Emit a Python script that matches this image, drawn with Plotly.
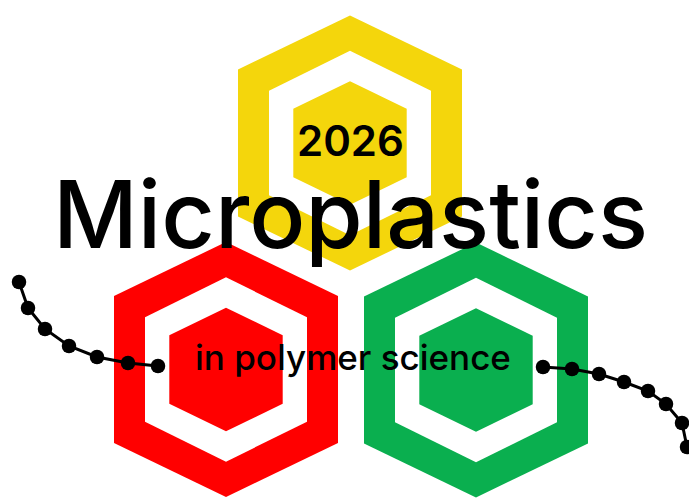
import plotly.graph_objects as go

# ---- data ----
hex_names = ["top", "left", "right"]
hex_colors = ["#F4D60C", "#FF0000", "#0AAF4F"]
hex_cx = [350, 226, 476]
hex_cy = [143, 369.5, 370]
# ring scale (outer, white gap, inner)
ring_halfwidth = [112, 81, 56.7]
ring_top = [127.5, 92.2, 61.8]
ring_side = [73.5, 52.2, 34.3]

chain_left_x = [19, 28, 45, 69, 97, 128, 158]
chain_left_y = [282, 308, 329, 346, 357, 363, 366]
chain_right_x = [543, 572, 599, 624, 648, 666, 682, 687]
chain_right_y = [367, 369, 374, 382, 391, 404, 423, 447]

title_text = "Microplastics"
year_text = "2026"
subtitle_text = "in polymer science"

W, H = 689, 498


def hex_path(cx, cy, hw, top, side):
    pts = [(cx, cy - top), (cx + hw, cy - side), (cx + hw, cy + side),
           (cx, cy + top), (cx - hw, cy + side), (cx - hw, cy - side)]
    return "M " + " L ".join(f"{x},{y}" for x, y in pts) + " Z"


shapes = []
for name, col, cx, cy in zip(hex_names, hex_colors, hex_cx, hex_cy):
    for i in range(3):
        fill = "white" if i == 1 else col
        shapes.append(dict(type="path", xref="x", yref="y",
                           path=hex_path(cx, cy, ring_halfwidth[i], ring_top[i], ring_side[i]),
                           fillcolor=fill, line=dict(width=0), layer="below"))

fig = go.Figure()
for xs, ys in [(chain_left_x, chain_left_y), (chain_right_x, chain_right_y)]:
    fig.add_trace(go.Scatter(x=xs, y=ys, mode="lines+markers",
                             line=dict(color="black", width=3),
                             marker=dict(color="black", size=14.5),
                             hoverinfo="skip", showlegend=False, cliponaxis=False))

font = "Inter"
fig.add_annotation(x=350, y=140, text=year_text, showarrow=False, xanchor="center",
                   yanchor="middle", font=dict(family=font, size=42, weight=600, color="black"))
fig.add_annotation(x=350, y=214, text=title_text, showarrow=False, xanchor="center",
                   yanchor="middle", font=dict(family=font, size=93, weight=500, color="black"))
fig.add_annotation(x=352.5, y=357, text=subtitle_text, showarrow=False, xanchor="center",
                   yanchor="middle", font=dict(family=font, size=35, weight=500, color="black"))

fig.update_layout(width=W, height=H, margin=dict(l=0, r=0, t=0, b=0),
                  paper_bgcolor="white", plot_bgcolor="white", shapes=shapes,
                  xaxis=dict(range=[0, W], visible=False, fixedrange=True),
                  yaxis=dict(range=[H, 0], visible=False, fixedrange=True))
fig.write_html("out.html", config={"displayModeBar": False},
               post_script="document.body.style.margin='0';")
